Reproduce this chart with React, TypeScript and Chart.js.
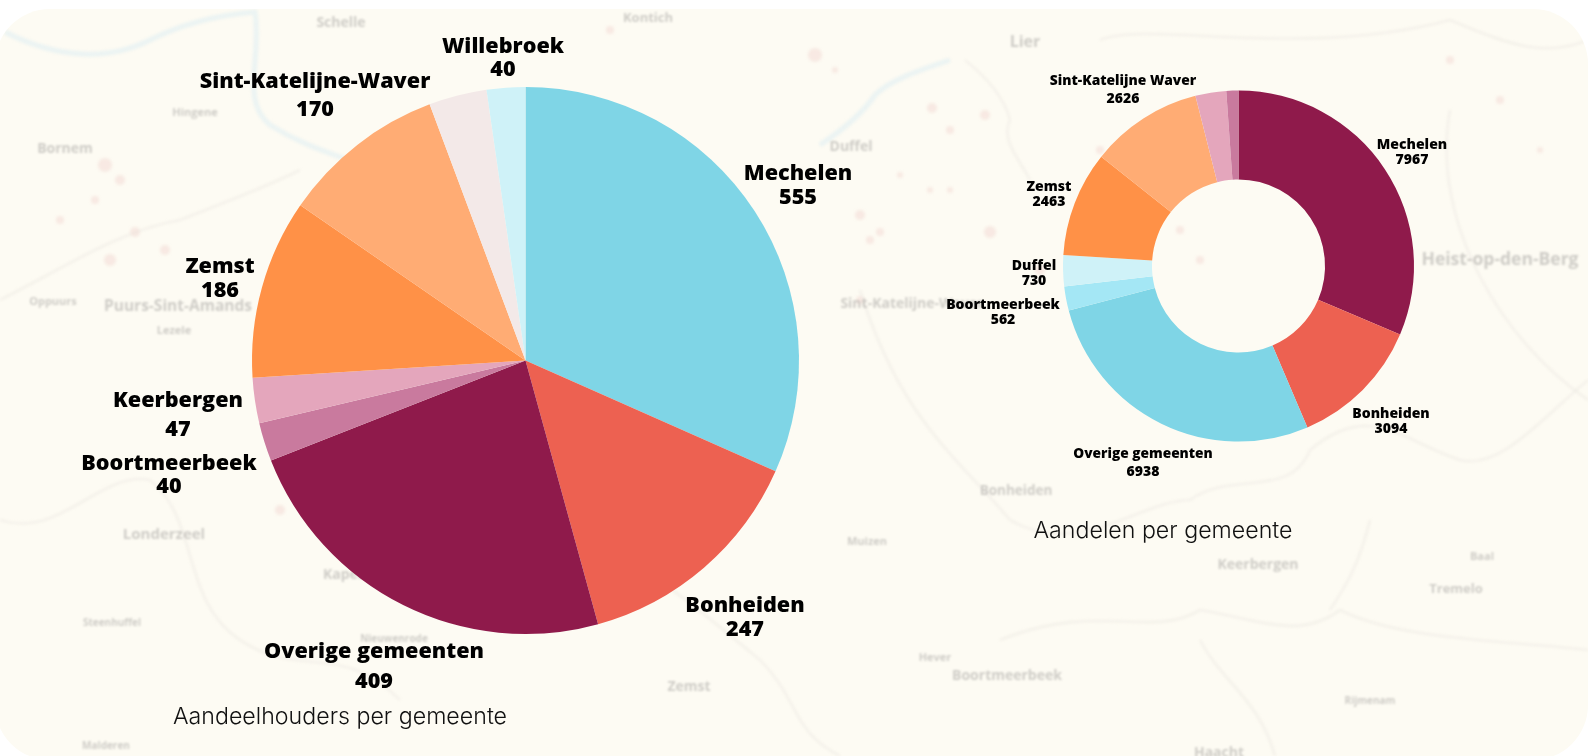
import React, { useEffect, useRef } from "react";
import { Chart, registerables } from "chart.js";

Chart.register(...registerables);

const holderLabels = ["Mechelen", "Bonheiden", "Overige gemeenten", "Boortmeerbeek", "Keerbergen", "Zemst", "Sint-Katelijne-Waver", "", "Willebroek"];
const holderValues = [555, 247, 409, 40, 47, 186, 170, 60, 40];
const holderColors = ["#7fd5e6", "#ed6151", "#8f1a4b", "#c97a9e", "#e4a6bc", "#ff9147", "#ffac74", "#f3e9e8", "#cff2f8"];

const shareLabels = ["Mechelen", "Bonheiden", "Overige gemeenten", "Boortmeerbeek", "Duffel", "Zemst", "Sint-Katelijne Waver", "", ""];
const shareValues = [7967, 3094, 6938, 562, 730, 2463, 2626, 720, 282];
const shareColors = ["#8f1a4b", "#ed6151", "#7fd5e6", "#a4e7f5", "#cff2f8", "#ff9147", "#ffac74", "#e4a6bc", "#c97a9e"];

// Label line centres in page pixels: [x, y of name, y of value]
const holderLabelPos = [[798, 174, 198], [745, 606, 630], [374, 652, 682], [169, 464, 487], [178, 401, 430], [220, 267, 291], [315, 82, 110], null, [503, 47, 70]];
const shareLabelPos = [[1412, 145, 160], [1391, 414, 429], [1143, 454, 472], [1003, 305, 320], [1034, 266, 281], [1049, 187, 202], [1123, 81, 99], null, null];
const shareLabelSizes = [14, 14, 13.7, 14, 14, 14, 13.8, 14, 14];

const mapNames: [string, number, number, number][] = [
  ["Schelle", 341, 21, 14], ["Kontich", 648, 17, 13], ["Lier", 1025, 41, 16], ["Bornem", 65, 147, 14], ["Hingene", 195, 111, 11],
  ["Duffel", 851, 145, 14], ["Heist-op-den-Berg", 1500, 258, 17.5], ["Sint-Katelijne-Waver", 912, 302, 14], ["Puurs-Sint-Amands", 178, 305, 15.5],
  ["Oppuurs", 53, 300, 11], ["Lezele", 174, 329, 11], ["Londerzeel", 164, 533, 15], ["Bonheiden", 1016, 490, 13.5], ["Keerbergen", 1258, 563, 14],
  ["Tremelo", 1456, 588, 13], ["Boortmeerbeek", 1007, 674, 14], ["Zemst", 689, 685, 14], ["Haacht", 1219, 751, 14], ["Muizen", 867, 540, 11],
  ["Kapelle-op-den-Bos", 390, 573, 14], ["Malderen", 106, 745, 10], ["Steenhuffel", 112, 622, 10], ["Nieuwenrode", 394, 638, 10],
  ["Rijmenam", 1370, 700, 10], ["Hever", 935, 656, 11], ["Baal", 1482, 555, 11],
];

const mapLines = [
  "M0 300 C60 270 120 230 180 220 C230 200 260 190 300 170",
  "M0 520 C60 540 100 470 150 480 C200 520 180 600 240 640 C300 680 340 640 400 700",
  "M560 520 C640 560 700 610 760 660 C800 700 790 730 840 756",
  "M1010 520 C1080 560 1140 500 1190 500 C1230 470 1290 500 1310 450 C1370 400 1400 440 1460 460 C1500 470 1540 420 1588 380",
  "M1000 640 C1100 600 1150 640 1200 610 C1260 620 1300 640 1340 610 C1400 640 1500 640 1588 650",
  "M1370 520 C1360 560 1350 580 1330 610",
  "M1200 640 C1220 680 1260 700 1275 756",
  "M1100 40 C1150 20 1300 60 1450 20 C1500 40 1540 60 1588 40",
  "M1450 110 C1430 220 1500 340 1588 400",
  "M860 290 C900 420 960 460 1010 520",
  "M965 60 C990 80 1005 100 1010 120 C1000 140 1020 160 1030 180",
];
const riverLines = [
  "M5 32 C60 60 110 60 150 40 C190 20 230 14 255 12 C262 60 240 100 270 125 C310 150 340 155 360 165",
  "M820 145 C850 125 865 110 875 95 C890 80 920 70 950 60",
];
const pinkSpots: [number, number, number][] = [
  [105, 165, 7], [120, 180, 5], [95, 200, 4], [110, 260, 6], [165, 250, 5], [60, 220, 4], [135, 232, 5],
  [815, 55, 7], [835, 70, 3], [932, 108, 5], [950, 130, 4], [900, 175, 3], [860, 215, 5], [880, 232, 4], [985, 115, 5],
  [1120, 210, 5], [1200, 260, 4], [990, 232, 6], [1040, 270, 5], [860, 300, 4], [870, 240, 4], [930, 190, 3], [950, 190, 3],
  [1450, 60, 4], [1500, 100, 4], [1540, 150, 3], [300, 470, 6], [280, 510, 5], [610, 30, 4], [1100, 150, 4], [1180, 230, 4],
];

const fontFamily = '"Open Sans"';

function labelPlugin(names: string[], values: number[], pos: (number[] | null)[], sizes: number[], offset: number, title: [string, number, number]) {
  return {
    id: "pageLabels",
    afterDraw(chart: any) {
      const c = chart.ctx;
      c.save();
      c.fillStyle = "#000";
      c.textAlign = "center";
      c.textBaseline = "middle";
      pos.forEach((p, i) => {
        if (!p) return;
        c.font = `800 ${sizes[i]}px ${fontFamily}`;
        c.fillText(names[i], p[0] - offset, p[1]);
        c.font = `800 ${sizes[0]}px ${fontFamily}`;
        c.fillText(String(values[i]), p[0] - offset, p[2]);
      });
      c.font = `300 23.2px Inter`;
      c.fillStyle = "#111";
      c.fillText(title[0], title[1] - offset, title[2]);
      c.restore();
    },
  };
}

function makePie(canvas: HTMLCanvasElement, type: "pie" | "doughnut", names: string[], values: number[], colors: string[], padding: any, cutout: string, plugin: any) {
  return new Chart(canvas, {
    type,
    data: { labels: names, datasets: [{ data: values, backgroundColor: colors, borderWidth: 0 }] },
    options: {
      responsive: false,
      animation: false,
      cutout,
      layout: { padding },
      plugins: { legend: { display: false }, tooltip: { enabled: false } },
    } as any,
    plugins: [plugin],
  });
}

export default function App() {
  const a = useRef<HTMLCanvasElement>(null);
  const b = useRef<HTMLCanvasElement>(null);
  useEffect(() => {
    document.body.style.margin = "0";
    document.body.style.background = "#fff";
    const c1 = makePie(a.current!, "pie", holderLabels, holderValues, holderColors,
      { left: 252, right: 101, top: 87, bottom: 122 }, "0%",
      labelPlugin(holderLabels, holderValues, holderLabelPos, holderLabels.map(() => 21.6), 0, ["Aandeelhouders per gemeente", 340, 717]));
    const c2 = makePie(b.current!, "doughnut", shareLabels, shareValues, shareColors,
      { left: 163, right: 174, top: 90, bottom: 314 }, "49.3%",
      labelPlugin(shareLabels, shareValues, shareLabelPos, shareLabelSizes, 900, ["Aandelen per gemeente", 1163, 531]));
    return () => { c1.destroy(); c2.destroy(); };
  }, []);
  return (
    <div style={{ position: "relative", width: 1588, height: 756, overflow: "hidden", background: "#fff" }}>
      <div style={{ position: "absolute", left: -5, top: 9, width: 1593, height: 751, borderRadius: 55, background: "#fdfbf3", overflow: "hidden" }}>
        <svg width={1593} height={756} style={{ position: "absolute", left: 5, top: -9, filter: "blur(1.5px)" }}>
          {pinkSpots.map(([x, y, r], i) => <circle key={i} cx={x} cy={y} r={r} fill="#f0cfcb" opacity={0.4} />)}
          {mapLines.map((d, i) => <path key={i} d={d} fill="none" stroke="#e3e0d9" strokeWidth={1.6} opacity={0.5} />)}
          {riverLines.map((d, i) => <path key={i} d={d} fill="none" stroke="#e6f1f3" strokeWidth={5} opacity={0.8} />)}
        </svg>
        {mapNames.map(([t, x, y, s]) => (
          <span key={t} style={{ position: "absolute", left: x + 5, top: y - 9, transform: "translate(-50%,-50%)", whiteSpace: "nowrap", font: `700 ${s}px "Open Sans"`, color: "#b0aeaa", opacity: 0.6, filter: "blur(1px)" }}>{t}</span>
        ))}
      </div>
      <canvas ref={a} width={900} height={756} style={{ position: "absolute", left: 0, top: 0, display: "block" }} />
      <canvas ref={b} width={688} height={756} style={{ position: "absolute", left: 900, top: 0, display: "block" }} />
    </div>
  );
}
